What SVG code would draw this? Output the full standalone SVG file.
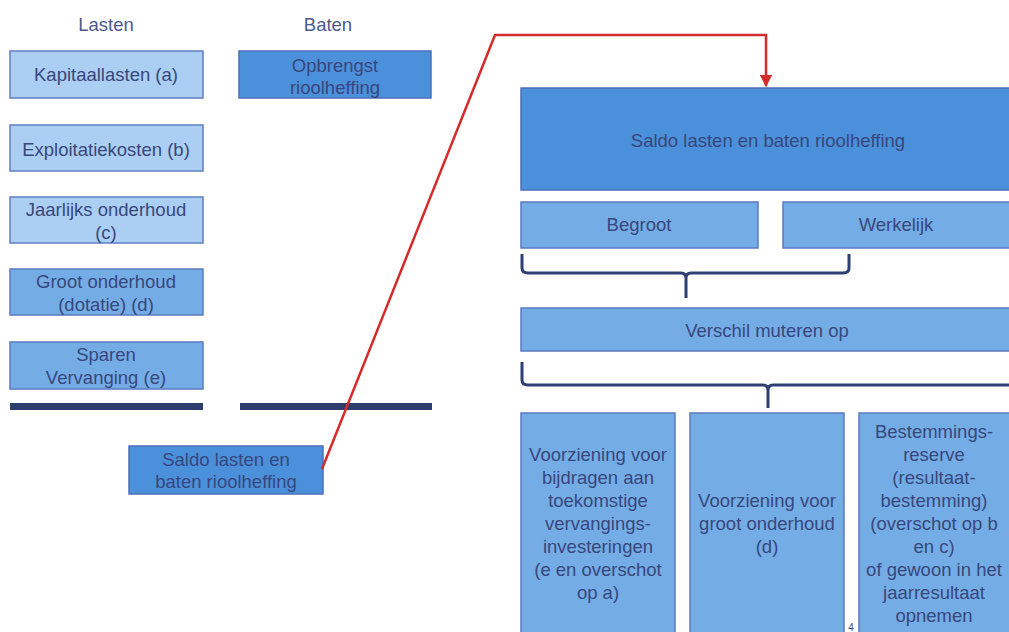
<svg xmlns="http://www.w3.org/2000/svg" width="1009" height="632" viewBox="0 0 1009 632">
<defs>
<style>
text{font-family:"Liberation Sans",Arial,sans-serif;font-size:18.5px;fill:#38477d;text-anchor:middle}
.hdr{fill:#4a5a8c}
.light{fill:#abcff2;stroke:#5f7fc4;stroke-width:1.5}
.mid{fill:#74ade5;stroke:#5a7ac0;stroke-width:1.5}
.dark{fill:#4b90db;stroke:#4d6fb8;stroke-width:1.5}
.bar{fill:#2c3d6e}
.brace{fill:none;stroke:#2e3f74;stroke-width:3;stroke-linejoin:round}
.red{fill:none;stroke:#d42b2b;stroke-width:2.5;stroke-linejoin:miter}
</style>
<marker id="arr" viewBox="0 0 10 10" refX="9" refY="5" markerWidth="5" markerHeight="5" orient="auto" markerUnits="strokeWidth">
<path d="M0,0 L10,5 L0,10 z" fill="#d42b2b"/>
</marker>
</defs>
<rect width="1009" height="632" fill="#ffffff"/>

<g id="headers">
<text class="hdr" x="106" y="31">Lasten</text>
<text class="hdr" x="328" y="31">Baten</text>
</g>

<g id="kapitaallasten"><rect class="light" x="10" y="51" width="193" height="47"/><text x="106" y="81">Kapitaallasten (a)</text></g>
<g id="opbrengst"><rect class="dark" x="239" y="51" width="192" height="47"/><text x="335" y="72">Opbrengst</text><text x="335" y="94">rioolheffing</text></g>
<g id="exploitatiekosten"><rect class="light" x="10" y="125" width="193" height="46"/><text x="106" y="156">Exploitatiekosten (b)</text></g>
<g id="jaarlijks"><rect class="light" x="10" y="197" width="193" height="46"/><text x="106" y="216">Jaarlijks onderhoud</text><text x="106" y="239">(c)</text></g>
<g id="groot"><rect class="mid" x="10" y="269" width="193" height="46"/><text x="106" y="288">Groot onderhoud</text><text x="106" y="311">(dotatie) (d)</text></g>
<g id="sparen"><rect class="mid" x="10" y="342" width="193" height="47"/><text x="106" y="361">Sparen</text><text x="106" y="384">Vervanging (e)</text></g>
<g id="bars"><rect class="bar" x="10" y="403" width="193" height="7"/><rect class="bar" x="240" y="403" width="192" height="7"/></g>
<g id="saldo-small"><rect class="dark" x="129" y="446" width="194" height="48"/><text x="226" y="466">Saldo lasten en</text><text x="226" y="488">baten rioolheffing</text></g>

<g id="saldo-big"><rect class="dark" x="521" y="88" width="495" height="102"/><text x="768" y="147">Saldo lasten en baten rioolheffing</text></g>
<g id="begroot"><rect class="mid" x="521" y="202" width="237" height="46"/><text x="639" y="231">Begroot</text></g>
<g id="werkelijk"><rect class="mid" x="783" y="202" width="232" height="46"/><text x="896" y="231">Werkelijk</text></g>
<g id="verschil"><rect class="mid" x="521" y="308" width="495" height="43"/><text x="767" y="337">Verschil muteren op</text></g>

<g id="voorziening-vervanging"><rect class="mid" x="521" y="413" width="154" height="230"/>
<text x="598" y="461">Voorziening voor</text><text x="598" y="484">bijdragen aan</text><text x="598" y="507">toekomstige</text><text x="598" y="530">vervangings-</text><text x="598" y="553">investeringen</text><text x="598" y="576">(e en overschot</text><text x="598" y="599">op a)</text></g>
<g id="voorziening-onderhoud"><rect class="mid" x="690" y="413" width="154" height="230"/>
<text x="767" y="507">Voorziening voor</text><text x="767" y="530">groot onderhoud</text><text x="767" y="553">(d)</text></g>
<g id="bestemmingsreserve"><rect class="mid" x="859" y="413" width="160" height="230"/>
<text x="934" y="438">Bestemmings-</text><text x="934" y="461">reserve</text><text x="934" y="484">(resultaat-</text><text x="934" y="507">bestemming)</text><text x="934" y="530">(overschot op b</text><text x="934" y="553">en c)</text><text x="934" y="576">of gewoon in het</text><text x="934" y="599">jaarresultaat</text><text x="934" y="622">opnemen</text></g>
<text x="851" y="631" style="font-size:10px">4</text>

<g id="connectors">
<path class="brace" d="M522,254 L522,268 Q522,273 528,273 L681,273 Q686,273 686,278 L686,298 M686,278 Q686,273 691,273 L843,273 Q849,273 849,268 L849,254"/>
<path class="brace" d="M522,362 L522,380 Q522,385 528,385 L763,385 Q768,385 768,390 L768,408 M768,390 Q768,385 773,385 L1012,385"/>
<polyline class="red" points="322,469 495,35 766,35 766,86" marker-end="url(#arr)"/>
</g>
</svg>
